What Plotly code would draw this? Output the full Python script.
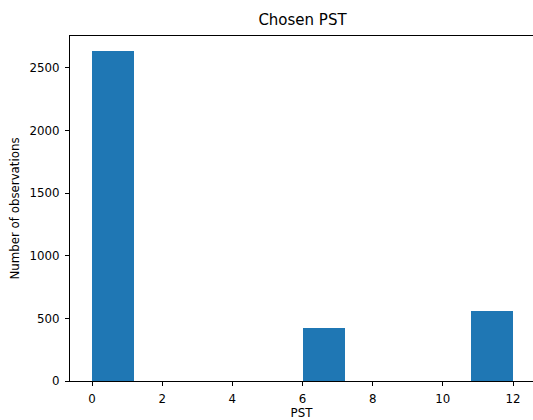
import plotly.graph_objects as go

bin_edges = [0.0, 1.2, 2.4, 3.6, 4.8, 6.0, 7.2, 8.4, 9.6, 10.8, 12.0]
counts = [2633, 0, 0, 0, 0, 424, 0, 0, 0, 562]

centers = [(a + b) / 2 for a, b in zip(bin_edges[:-1], bin_edges[1:])]
widths = [b - a for a, b in zip(bin_edges[:-1], bin_edges[1:])]

x_ticks = [0, 2, 4, 6, 8, 10, 12]
y_ticks = [0, 500, 1000, 1500, 2000, 2500]

fig = go.Figure(go.Bar(
    x=centers, y=counts, width=widths,
    marker=dict(color="#1f77b4", line=dict(width=0)),
    hoverinfo="skip",
))

font = "DejaVu Sans"
axis_common = dict(
    showline=True, linecolor="black", linewidth=1, mirror=True,
    ticks="outside", ticklen=4, tickwidth=1, tickcolor="black",
    showgrid=False, zeroline=False, ticklabelstandoff=3,
    tickfont=dict(family=font, size=11.8, color="black"),
)
fig.update_layout(
    width=533, height=420,
    margin=dict(l=70, r=0, t=36, b=39),
    plot_bgcolor="white", paper_bgcolor="white",
    showlegend=False,
    title=dict(text="Chosen PST", x=302.5 / 533, xanchor="center",
               y=1 - 20 / 420, yanchor="middle",
               font=dict(family=font, size=15, color="black")),
    xaxis=dict(range=[-0.627, 12.57], tickvals=x_ticks,
               title=dict(text="PST", standoff=2,
                          font=dict(family=font, size=11.8, color="black")),
               **axis_common),
    yaxis=dict(range=[0, 2755], tickvals=y_ticks,
               title=dict(text="Number of observations", standoff=7,
                          font=dict(family=font, size=11.8, color="black")),
               **axis_common),
    bargap=0,
)
fig.write_html("out.html", config={"displayModeBar": False},
               post_script="document.body.style.margin='0';document.body.style.overflow='hidden';")
